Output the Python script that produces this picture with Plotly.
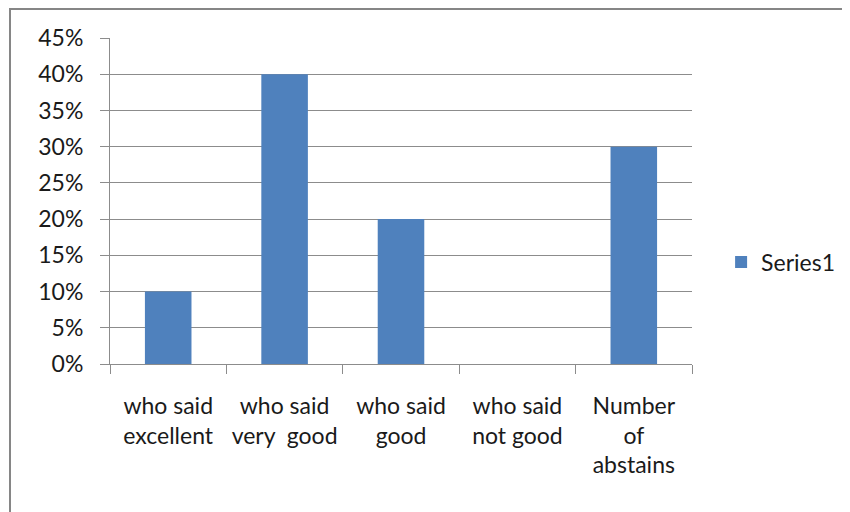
import plotly.graph_objects as go

categories = ["who said<br>excellent", "who said<br>very  good", "who said<br>good",
              "who said<br>not good", "Number<br>of<br>abstains"]
values = [0.10, 0.40, 0.20, 0.0, 0.30]
series_name = "Series1"
y_ticks = [0, 0.05, 0.10, 0.15, 0.20, 0.25, 0.30, 0.35, 0.40, 0.45]

# page body has an 8px margin, so the figure is drawn offset by 8px
OFF = 8
W, H = 850 - OFF, 512 - OFF
L, R, T, B = 110 - OFF, 692 - OFF, 38 - OFF, 364 - OFF

fig = go.Figure()
fig.add_trace(go.Bar(x=categories, y=values, name=series_name,
                     marker=dict(color="#4F81BD", line=dict(width=0)),
                     showlegend=True))

fnt = dict(family="Lato, Carlito, sans-serif", size=23, color="#1a1a1a")
grid = "#8c8c8c"

fig.update_layout(
    width=W, height=H,
    margin=dict(l=L, r=W - R, t=T, b=H - B, pad=0, autoexpand=False),
    paper_bgcolor="white", plot_bgcolor="white",
    font=fnt,
    bargap=0.6,
    showlegend=True,
    legend=dict(x=1.05, y=0.313, xanchor="left", yanchor="middle",
                font=fnt, bgcolor="rgba(0,0,0,0)", itemwidth=30),
    xaxis=dict(type="category", tickson="boundaries", ticks="outside", ticklen=9,
               tickcolor=grid, showline=True, linecolor=grid, linewidth=1,
               showgrid=False, tickfont=fnt, ticklabelstandoff=21, tickangle=0,
               automargin=False),
    yaxis=dict(range=[0, 0.45], tickvals=y_ticks, tickformat=".0%",
               ticks="outside", ticklen=9, tickcolor=grid,
               showline=True, linecolor=grid, linewidth=1,
               showgrid=True, gridcolor=grid, gridwidth=1,
               zeroline=False, tickfont=fnt, ticklabelstandoff=12,
               automargin=False),
)

x0 = (2 - L) / (R - L)
y1 = (B - 1) / (B - T)
fig.add_shape(type="rect", xref="paper", yref="paper", x0=x0, x1=3, y0=-2, y1=y1,
              line=dict(color="#868686", width=2), fillcolor="rgba(0,0,0,0)", layer="below")

fig.write_html("out.html")
